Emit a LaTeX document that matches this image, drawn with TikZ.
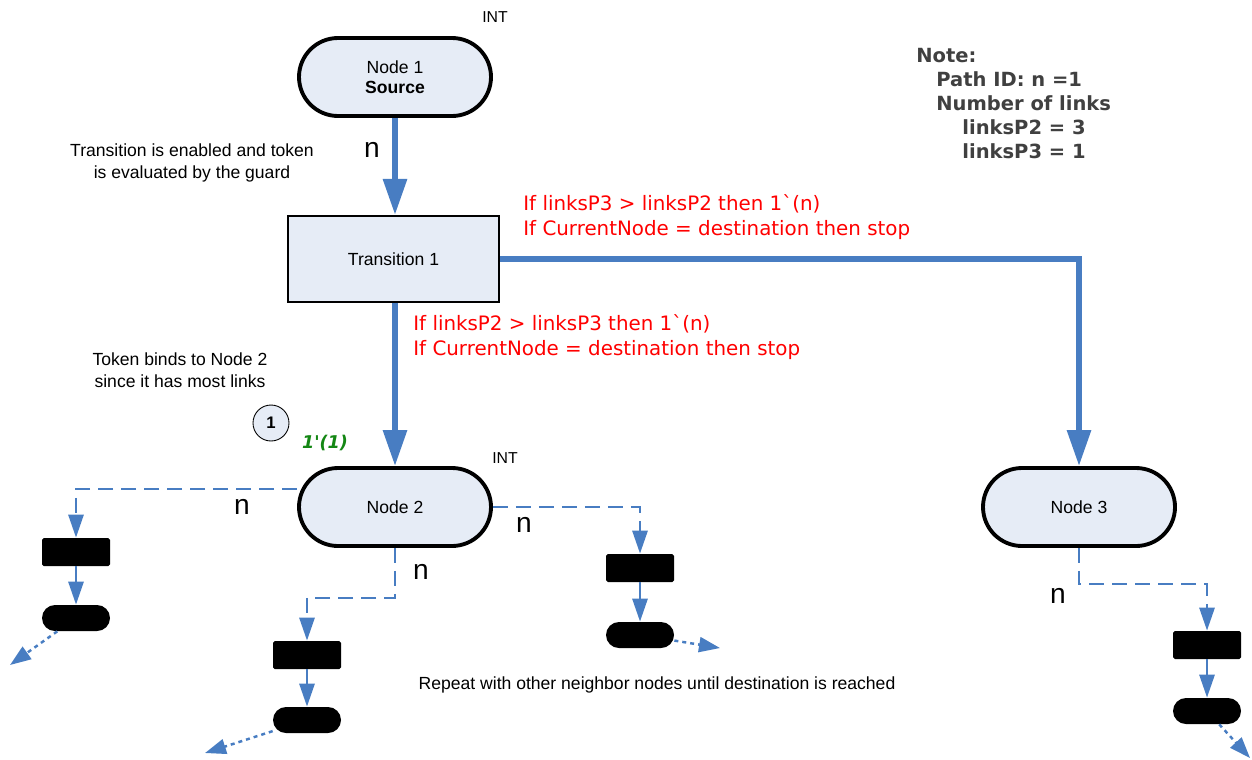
\documentclass[tikz,border=0pt]{standalone}
\usepackage{fontspec}
\setmainfont{Liberation Sans}
\newfontfamily\verd{DejaVu Sans}
\usetikzlibrary{arrows.meta,calc}
\definecolor{flowblue}{RGB}{72,125,194}
\definecolor{placefill}{RGB}{230,236,246}
\definecolor{guardred}{RGB}{255,0,0}
\definecolor{tokengreen}{RGB}{20,135,20}

\begin{document}
\begin{tikzpicture}[
		place/.style={draw, line width=2.2pt, fill=placefill, rounded corners=0.78cm,
			minimum width=3.84cm, minimum height=1.56cm, align=center,
			font=\fontsize{10}{11.5}\selectfont},
		trans/.style={draw, line width=1.2pt, fill=placefill, minimum width=4.22cm,
			minimum height=1.72cm, font=\fontsize{10}{11.5}\selectfont},
		blkbox/.style={fill=black, rounded corners=1pt, minimum width=1.36cm,
			minimum height=0.56cm, inner sep=0pt},
		blkplace/.style={fill=black, rounded corners=0.26cm, minimum width=1.36cm,
			minimum height=0.52cm, inner sep=0pt},
		flow/.style={flowblue, line width=3.4pt, -{Triangle[length=0.72cm,width=0.46cm]}},
		arcdash/.style={flowblue, line width=1.6pt, dash pattern=on 0.3cm off 0.16cm,
			-{Triangle[length=0.46cm,width=0.3cm]}},
		fire/.style={flowblue, line width=1.6pt, -{Triangle[length=0.46cm,width=0.3cm]}},
		onward/.style={flowblue, line width=1.4pt, dash pattern=on 0.08cm off 0.08cm,
			-{Triangle[length=0.42cm,width=0.3cm]}},
		lbl/.style={align=center, font=\fontsize{10}{12.5}\selectfont},
		varn/.style={font=\fontsize{16}{18}\selectfont},
		guard/.style={text=guardred, anchor=north west, inner sep=0pt, align=left,
			font=\verd\fontsize{11.3}{14.2}\selectfont}
	]
		%%%%% START %%%%%
		\useasboundingbox (0, 0) rectangle (25.04, -15.18);
		
		% places and transition
		\node[place] (n1) at (7.9, -1.54) {Node 1\\\textbf{Source}};
		\node[trans] (tr) at (7.87, -5.18) {Transition 1};
		\node[place] (n2) at (7.9, -10.14) {Node 2};
		\node[place] (n3) at (21.58, -10.14) {Node 3};
		
		\node[font=\fontsize{9}{11}\selectfont] (int1) at (9.9, -0.34) {INT};
		\node[font=\fontsize{9}{11}\selectfont] (int2) at (10.1, -9.16) {INT};
		
		\draw[flow] (n1.south) -- (n1.south |- tr.north);
		\draw[flow] (n1.south |- tr.south) -- (n2.north);
		\draw[flow] (tr.east) -| (n3.north);
		
		\node[varn] (v1) at (7.44, -3.0) {n};
		\node[lbl] (enabled) at (3.84, -3.26) {Transition is enabled and token\\is evaluated by the guard};
		\node[lbl] (binds) at (3.6, -7.4) {Token binds to Node 2\\since it has most links};
		
		\node[guard] (g3) at (10.46, -3.88) {If linksP3 > linksP2 then 1\char"60(n)\\If CurrentNode = destination then stop};
		\node[guard] (g2) at (8.26, -6.28) {If linksP2 > linksP3 then 1\char"60(n)\\If CurrentNode = destination then stop};
		
		% token
		\node[draw, circle, fill=placefill, line width=0.5pt, minimum size=0.72cm, inner sep=0pt,
			font=\bfseries\fontsize{9.5}{11}\selectfont] (tok) at (5.42, -8.46) {1};
		\node[text=tokengreen, font=\verd\bfseries\itshape\fontsize{10}{12}\selectfont] (mark) at (6.5, -8.86) {1\char"27(1)};
		
		% note
		\node[anchor=north west, inner sep=0pt, align=left, text=black!75,
			font=\verd\bfseries\fontsize{11.1}{13.7}\selectfont] (note) at (18.32, -0.96)
			{Note:\\\hspace*{0.4cm}Path ID: n =1\\\hspace*{0.4cm}Number of links\\
			\hspace*{0.92cm}linksP2 = 3\\\hspace*{0.92cm}linksP3 = 1};
		
		% neighbour steps
		\node[blkbox] (b1) at (1.52, -11.04) {};
		\node[blkplace] (s1) at (1.52, -12.36) {};
		\node[blkbox] (b2) at (12.8, -11.36) {};
		\node[blkplace] (s2) at (12.8, -12.7) {};
		\node[blkbox] (b3) at (6.14, -13.1) {};
		\node[blkplace] (s3) at (6.14, -14.4) {};
		\node[blkbox] (b4) at (24.14, -12.9) {};
		\node[blkplace] (s4) at (24.14, -14.22) {};
		
		\coordinate (e1) at (0.2, -13.3);
		\coordinate (e2) at (14.4, -12.96);
		\coordinate (e3) at (4.1, -15.06);
		\coordinate (e4) at (25.0, -15.16);
		
		\draw[arcdash] ([yshift=0.36cm]n2.west) -| (b1.north);
		\draw[arcdash] (n2.east) -| (b2.north);
		\draw[arcdash] (n2.south) -- ++(0, -1.0) -| (b3.north);
		\draw[arcdash] (n3.south) -- ++(0, -0.72) -| (b4.north);
		
		\draw[fire] (b1) -- (s1);
		\draw[fire] (b2) -- (s2);
		\draw[fire] (b3) -- (s3);
		\draw[fire] (b4) -- (s4);
		
		\draw[onward] (s1) -- (e1);
		\draw[onward] (s2) -- (e2);
		\draw[onward] (s3) -- (e3);
		\draw[onward] (s4) -- (e4);
		
		\node[varn] (v2) at (4.84, -10.14) {n};
		\node[varn] (v3) at (10.48, -10.5) {n};
		\node[varn] (v4) at (8.42, -11.44) {n};
		\node[varn] (v5) at (21.16, -11.92) {n};
		
		\node[lbl] (repeat) at (13.14, -13.7) {Repeat with other neighbor nodes until destination is reached};
		%%%%% END %%%%%
	\end{tikzpicture}
\end{document}
